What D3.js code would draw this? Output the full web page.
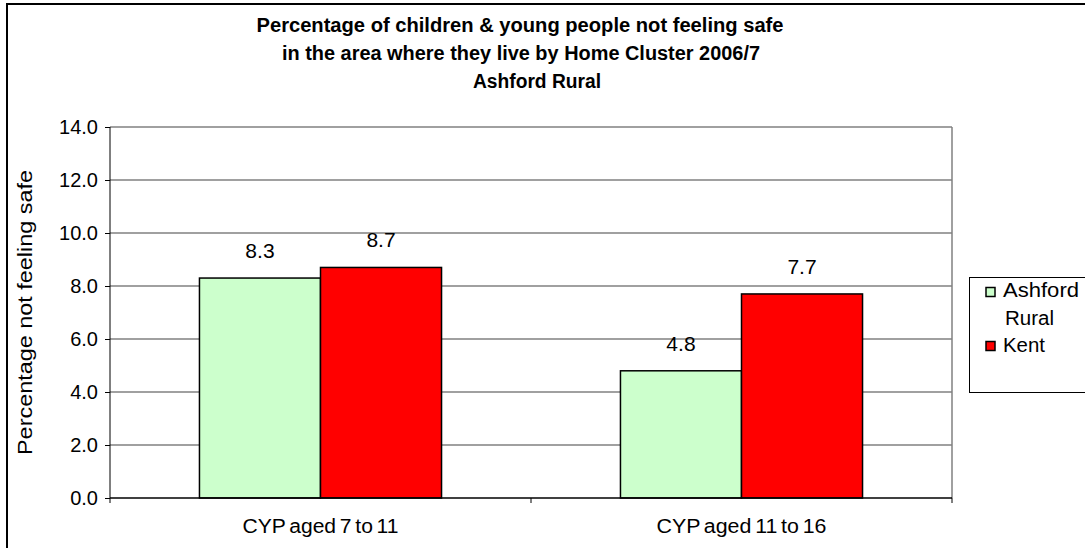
<!DOCTYPE html>
<html>
<head>
<meta charset="utf-8">
<script src="https://cdn.jsdelivr.net/npm/d3@7"></script>
<style>
  body { margin: 0; background: #fff; }
  svg { display: block; font-family: "Liberation Sans", Arial, sans-serif; }
</style>
</head>
<body>
<svg id="chart" width="1085" height="548"></svg>
<script>
"use strict";

const titleLines = [
    "Percentage of children & young people not feeling safe",
    "in the area where they live by Home Cluster 2006/7",
    "Ashford Rural"
];
const categories = ["CYP aged 7 to 11", "CYP aged 11 to 16"];
const seriesNames = ["Ashford Rural", "Kent"];
const ashfordValues = [8.3, 4.8];
const kentValues = [8.7, 7.7];
const seriesColors = ["#ccffcc", "#ff0000"];
const yTicks = [0, 2, 4, 6, 8, 10, 12, 14];
const yLabel = "Percentage not feeling safe";

const series = seriesNames.map((name, i) => ({
    name: name,
    color: seriesColors[i],
    values: i === 0 ? ashfordValues : kentValues
}));

const svg = d3.select("#chart");
const plot = { left: 110, right: 952, top: 127, bottom: 498 };

// outer chart border
svg.append("rect")
    .attr("x", 7).attr("y", 4)
    .attr("width", 1085).attr("height", 560)
    .attr("fill", "none")
    .attr("stroke", "#000")
    .attr("stroke-width", 2);

// title (Excel renders it wider than Liberation, so stretch to measured widths)
const titleX = [520, 521, 537];
const titleY = [32, 60, 88];
const titleW = [527, 478, 128];
titleLines.forEach((t, i) => {
    svg.append("text")
        .attr("x", titleX[i]).attr("y", titleY[i])
        .attr("text-anchor", "middle")
        .attr("font-size", "20px")
        .attr("font-weight", "bold")
        .attr("textLength", titleW[i])
        .attr("lengthAdjust", "spacingAndGlyphs")
        .text(t);
});

const y = d3.scaleLinear().domain([0, 14]).range([plot.bottom, plot.top]);
const x0 = d3.scaleBand()
    .domain(categories)
    .range([plot.left, plot.right])
    .paddingInner(0.425)
    .paddingOuter(0.2125);
const x1 = d3.scaleBand().domain(seriesNames).range([0, x0.bandwidth()]);

// gridlines
svg.append("g")
    .selectAll("line")
    .data(yTicks.filter(d => d > 0))
    .join("line")
    .attr("x1", plot.left).attr("x2", plot.right)
    .attr("y1", d => y(d)).attr("y2", d => y(d))
    .attr("stroke", "#808080")
    .attr("stroke-width", 1.5);

// y axis
const yAxis = svg.append("g")
    .attr("transform", `translate(${plot.left},0)`)
    .call(d3.axisLeft(y).tickValues(yTicks).tickFormat(d3.format(".1f")).tickSize(5).tickPadding(7));
yAxis.select(".domain").remove();
yAxis.selectAll("line").attr("stroke", "#000");
yAxis.selectAll("text")
    .attr("font-size", "20px")
    .attr("fill", "#000")
    .attr("font-family", "Liberation Sans, Arial, sans-serif");

// plot area right border
svg.append("line")
    .attr("x1", plot.right).attr("x2", plot.right)
    .attr("y1", plot.top).attr("y2", plot.bottom)
    .attr("stroke", "#808080").attr("stroke-width", 1.5);

// bars
const groups = svg.append("g")
    .selectAll("g")
    .data(categories)
    .join("g")
    .attr("transform", d => `translate(${x0(d)},0)`);

groups.selectAll("rect")
    .data((d, ci) => series.map(s => ({ name: s.name, color: s.color, value: s.values[ci] })))
    .join("rect")
    .attr("x", d => x1(d.name))
    .attr("y", d => y(d.value))
    .attr("width", x1.bandwidth())
    .attr("height", d => y(0) - y(d.value))
    .attr("fill", d => d.color)
    .attr("stroke", "#000")
    .attr("stroke-width", 1.5);

groups.selectAll("text")
    .data((d, ci) => series.map(s => ({ name: s.name, value: s.values[ci] })))
    .join("text")
    .attr("x", d => x1(d.name) + x1.bandwidth() / 2)
    .attr("y", d => y(d.value) - 20)
    .attr("text-anchor", "middle")
    .attr("font-size", "21px")
    .text(d => d3.format(".1f")(d.value));

// y axis line
svg.append("line")
    .attr("x1", plot.left).attr("x2", plot.left)
    .attr("y1", plot.top).attr("y2", plot.bottom)
    .attr("stroke", "#000").attr("stroke-width", 1);

// x axis line and category ticks
svg.append("line")
    .attr("x1", plot.left).attr("x2", plot.right)
    .attr("y1", plot.bottom).attr("y2", plot.bottom)
    .attr("stroke", "#000").attr("stroke-width", 1.5);

const step = x0.step();
const boundaries = d3.range(categories.length + 1).map(i => plot.left + i * step);
svg.append("g")
    .selectAll("line")
    .data(boundaries)
    .join("line")
    .attr("x1", d => d).attr("x2", d => d)
    .attr("y1", plot.bottom).attr("y2", plot.bottom + 5)
    .attr("stroke", "#000");

const catWidths = [156, 170];
svg.append("g")
    .selectAll("text")
    .data(categories)
    .join("text")
    .attr("x", d => x0(d) + x0.bandwidth() / 2)
    .attr("y", 533)
    .attr("text-anchor", "middle")
    .attr("font-size", "20px")
    .attr("word-spacing", "-2px")
    .attr("textLength", (d, i) => catWidths[i])
    .attr("lengthAdjust", "spacingAndGlyphs")
    .text(d => d);

// y axis title
svg.append("text")
    .attr("transform", `translate(32,${(plot.top + plot.bottom) / 2}) rotate(-90)`)
    .attr("text-anchor", "middle")
    .attr("font-size", "20px")
    .attr("textLength", 285)
    .attr("lengthAdjust", "spacingAndGlyphs")
    .text(yLabel);

// legend
const legend = svg.append("g");
legend.append("rect")
    .attr("x", 969.5).attr("y", 277.5)
    .attr("width", 130).attr("height", 115)
    .attr("fill", "#fff")
    .attr("stroke", "#000");

const legendRows = [
    { s: series[0], y: 292, base: 297, lines: ["Ashford", "Rural"], widths: [76, 49] },
    { s: series[1], y: 346, base: 352, lines: ["Kent"], widths: [42] }
];
legendRows.forEach(r => {
    legend.append("rect")
        .attr("x", 986).attr("y", r.y - 4.5)
        .attr("width", 9).attr("height", 9)
        .attr("fill", r.s.color)
        .attr("stroke", "#000")
        .attr("stroke-width", 1.5);
    r.lines.forEach((t, i) => {
        legend.append("text")
            .attr("x", i === 0 ? 1003 : 1005)
            .attr("y", r.base + i * 28)
            .attr("font-size", "20px")
            .attr("textLength", r.widths[i])
            .attr("lengthAdjust", "spacingAndGlyphs")
            .text(t);
    });
});
</script>
</body>
</html>
